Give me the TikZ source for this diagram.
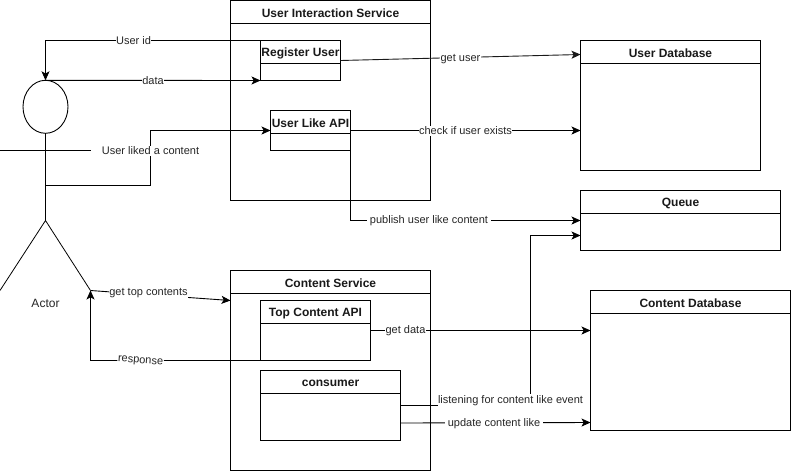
\documentclass[tikz,border=0pt]{standalone}
\usepackage{fontspec}
\setmainfont{Liberation Sans}
\usetikzlibrary{arrows.meta,calc,shapes.geometric}
\tikzset{
  x=1pt,y=-1pt,
  every path/.style={line width=0.9pt},
  boxed/.style={draw=black,rectangle,inner sep=0pt,outer sep=0pt},
  titletext/.style={font=\fontsize{12}{14}\selectfont\bfseries,inner sep=0pt,text=black!90},
  lbl/.style={font=\fontsize{11}{13}\selectfont,fill=white,inner sep=0.5pt,text=black!85},
  conn/.style={draw=black,-{Stealth[length=9pt,width=8pt,inset=2.2pt]},line join=miter},
}
\newcommand{\umlbox}[6]{% name, x1, y1, x2, y2, title
  \node[boxed,minimum width={(#4-#2)*1pt},minimum height={(#5-#3)*1pt}] (#1) at ({(#2+#4)/2},{(#3+#5)/2}) {};
  \draw (#2,#3+23) -- (#4,#3+23);
  \node[titletext] (#1t) at ({(#2+#4)/2},#3+13) {#6};
}
\begin{document}
\begin{tikzpicture}
\useasboundingbox (0,0) rectangle (792,472);
\fill[white] (0,0) rectangle (792,472);

\umlbox{uis}{230.5}{0.5}{430.5}{200.5}{User Interaction Service}
\umlbox{reg}{260.5}{40.5}{340.5}{80.5}{Register User}
\umlbox{like}{270.5}{110.5}{350.5}{150.5}{User Like API}
\umlbox{udb}{580.5}{40.5}{760.5}{170.5}{User Database}
\umlbox{queue}{580.5}{190.5}{780.5}{250.5}{Queue}
\umlbox{cs}{230.5}{270.5}{430.5}{470.5}{Content Service}
\umlbox{top}{260.5}{300.5}{370.5}{360.5}{Top Content API}
\umlbox{cons}{260.5}{370.5}{400.5}{440.5}{consumer}
\umlbox{cdb}{590.5}{290.5}{790.5}{430.5}{Content Database}

% actor
\node[draw=black,ellipse,minimum width=45pt,minimum height=53pt,inner sep=0pt,outer sep=0pt] (head) at (45.5,106.8) {};
\coordinate (hip) at (45.5,220.5);
\coordinate (armL) at (0,150.5);
\coordinate (armR) at (90.5,150.5);
\coordinate (legL) at (0,290.5);
\coordinate (legR) at (90.5,290.5);
\coordinate (tap) at (45.5,185.5);
\draw (head.south) -- (hip);
\draw (armL) -- (armR);
\draw[line cap=butt,line width=0.8pt] (legL) -- (hip) -- (legR);
\node[font=\fontsize{12}{14}\selectfont,inner sep=0pt,text=black!85] (actor) at (45.5,303.5) {Actor};

% connectors
\draw[conn] (reg.north west) -- (45.5,40.5) -- (head.north);
\node[lbl] (l1) at (133.5,41) {User id};
\draw[conn] (head.north) -- (reg.south west);
\node[lbl] (l2) at (153,81) {data};
\draw[conn] (tap) -- (150.5,185.5) -- (150.5,130.5) -- (like.west);
\node[lbl,inner xsep=1pt,inner ysep=1pt] (l3) at (150.5,151) {User liked a content};

\draw[conn,draw=black!90] (reg.east) -- (udb.west |- 0,54.5);
\node[lbl] (l4) at (460.5,59) {get user};
\draw[conn] (like.east) -- (udb.west |- like.east);
\node[lbl] (l5) at (465.5,131) {check if user exists};
\draw[conn] (like.east) -- (350.5,220.5) -- (queue.west);
\node[lbl,inner xsep=3pt] (l6) at (429,221) {publish user like content};

\draw[conn] (legR) -- (cs.west |- 0,300.5);
\node[lbl] (l7) at (148.5,293) {get top contents};
\draw[conn] (top.south west) -- (90.5,360.5) -- (legR);
\node[lbl,rotate=-4] (l8) at (140.5,361.5) {response};

\draw[conn] (top.east) -- (cdb.west |- top.east);
\node[lbl] (l9) at (405.5,331) {get data};
\draw[conn] (cons.east) -- (530.5,405.5) -- (530.5,235.5) -- (queue.west |- 0,235.5);
\node[lbl,inner ysep=1.5pt] (l10) at (510.5,401) {listening for content like event};
\draw[conn] (400.5,423) -- (cdb.west |- 0,422.5);
\node[lbl,inner xsep=3pt] (l11) at (494,424) {update content like};
\end{tikzpicture}
\end{document}
